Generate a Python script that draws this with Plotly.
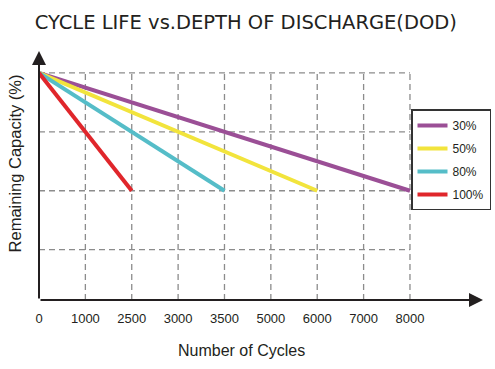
import plotly.graph_objects as go

# ---- data ----
CYCLES = ["0", "1000", "2500", "3000", "3500", "5000", "6000", "7000", "8000"]
DOD_LABELS = ["30%", "50%", "80%", "100%"]
END_CYCLES = ["8000", "6000", "3500", "2500"]
START_CAPACITY = [100, 100, 100, 100]
END_CAPACITY = [80, 80, 80, 80]
COLORS = ["#9b4f96", "#f2e43c", "#55bdc8", "#e0262b"]
Y_GRID = [70, 80, 90, 100]
Y_MIN = 61.45
Y_MAX = 103.72
X_MAX = 9.575

AX_COLOR = "#231f20"
GRID_COLOR = "#8c8c8c"
FONT = "Liberation Sans, Arial, sans-serif"

W, H = 495, 369
ML, MR, MT, MB = 39, 12, 50.7, 68.5
PW = W - ML - MR
PH = H - MT - MB


def px(page_x):
    return (page_x - ML) / PW


def py(page_y):
    return 1 - (page_y - MT) / PH


fig = go.Figure()

for name, end_x, y0, y1, col in zip(DOD_LABELS, END_CYCLES, START_CAPACITY, END_CAPACITY, COLORS):
    fig.add_trace(go.Scatter(
        x=[CYCLES[0], end_x], y=[y0, y1], mode="lines", name=name,
        line=dict(color=col, width=4), cliponaxis=False, legendgroup=name,
    ))

grid_line = dict(color=GRID_COLOR, width=1.3, dash="6px,4px")
shapes = []
for i, c in enumerate(CYCLES):
    if i == 0:
        continue
    shapes.append(dict(type="line", xref="x", yref="y", x0=i, x1=i, y0=Y_MIN, y1=max(Y_GRID),
                       line=grid_line, layer="below"))
for g in Y_GRID:
    shapes.append(dict(type="line", xref="x", yref="y", x0=0, x1=len(CYCLES) - 1, y0=g, y1=g,
                       line=grid_line, layer="below"))

annotations = [
    # x axis arrow
    dict(xref="x", yref="y", axref="x", ayref="y", x=X_MAX, y=Y_MIN, ax=0, ay=Y_MIN,
         text="", showarrow=True, arrowhead=2, arrowsize=1.4, arrowwidth=2, arrowcolor=AX_COLOR,
         standoff=0),
    # y axis arrow
    dict(xref="x", yref="y", axref="x", ayref="y", x=0, y=Y_MAX, ax=0, ay=Y_MIN,
         text="", showarrow=True, arrowhead=2, arrowsize=1.4, arrowwidth=2, arrowcolor=AX_COLOR,
         standoff=0),
    dict(xref="paper", yref="paper", x=px(241.3), y=py(350.7),
         text="Number of Cycles", showarrow=False, xanchor="center", yanchor="middle",
         font=dict(family=FONT, size=16, color=AX_COLOR)),
    dict(xref="paper", yref="paper", x=px(14.5), y=py(164),
         text="Remaining Capacity (%)", showarrow=False, textangle=-90,
         xanchor="center", yanchor="middle",
         font=dict(family=FONT, size=16.5, color=AX_COLOR)),
]

fig.update_layout(
    width=W, height=H,
    margin=dict(l=ML, r=MR, t=MT, b=MB, pad=0, autoexpand=False),
    paper_bgcolor="white", plot_bgcolor="white",
    title=dict(text="CYCLE LIFE vs.DEPTH OF DISCHARGE(DOD)", x=245.8 / W, xanchor="center",
               y=1 - 21.7 / H, yanchor="middle",
               font=dict(family="DejaVu Sans", size=19.5, color=AX_COLOR)),
    xaxis=dict(type="category", categoryorder="array", categoryarray=CYCLES,
               range=[0, X_MAX], showgrid=False, zeroline=False, showline=False,
               ticks="outside", ticklen=6, tickcolor="rgba(0,0,0,0)", automargin=False,
               tickfont=dict(family=FONT, size=13, color=AX_COLOR)),
    yaxis=dict(range=[Y_MIN, Y_MAX], showgrid=False, zeroline=False, showline=False,
               showticklabels=False, ticks="", automargin=False),
    showlegend=True,
    legend=dict(x=px(451), xanchor="center", y=py(160), yanchor="middle",
                bgcolor="white", bordercolor="#333333", borderwidth=1.5,
                font=dict(family=FONT, size=12, color=AX_COLOR),
                traceorder="grouped", tracegroupgap=4),
    shapes=shapes,
    annotations=annotations,
)

fig.write_html("out.html",
               config={"displayModeBar": False},
               post_script="document.body.style.margin='0px';document.body.style.overflow='hidden';")
